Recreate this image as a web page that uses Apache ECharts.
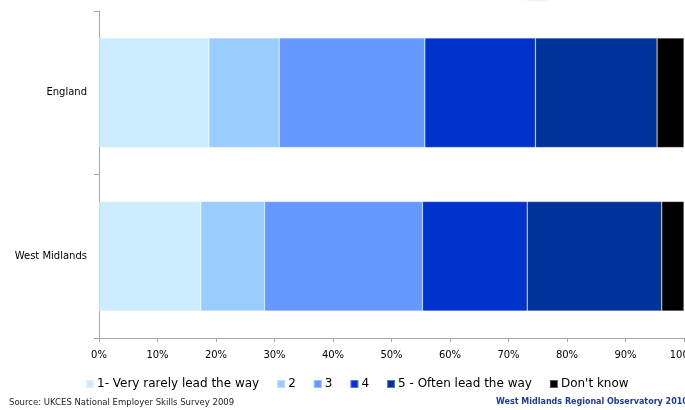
<!DOCTYPE html>
<html>
<head>
<meta charset="utf-8">
<script src="https://cdn.jsdelivr.net/npm/echarts@6/dist/echarts.min.js"></script>
<style>
  html, body { margin: 0; padding: 0; background: #ffffff; }
  #chart { width: 685px; height: 410px; }
</style>
</head>
<body>
<div id="chart"></div>
<script>
// Regions shown as horizontal stacked bars (top to bottom)
const regions = ['England', 'West Midlands'];

// Share of employers (%) by how often they lead the way
const rating1 = [18.8, 17.4];
const rating2 = [12.0, 10.9];
const rating3 = [24.9, 27.0];
const rating4 = [18.9, 17.9];
const rating5 = [20.8, 23.0];
const dontKnow = [4.6, 3.8];

const seriesNames = ['1- Very rarely lead the way', '2', '3', '4', '5 - Often lead the way', "Don't know"];
const seriesColors = ['#CCECFF', '#99CCFF', '#6699FF', '#0033CC', '#003399', '#000000'];
const seriesValues = [rating1, rating2, rating3, rating4, rating5, dontKnow];

const xTicks = [0, 10, 20, 30, 40, 50, 60, 70, 80, 90, 100];

const FONT = 'DejaVu Sans';

const chart = echarts.init(document.getElementById('chart'), null, { renderer: 'canvas' });

chart.setOption({
  animation: false,
  backgroundColor: '#ffffff',
  textStyle: { fontFamily: FONT },
  grid: { left: 99, right: 1, top: 11, bottom: 72, containLabel: false, outerBoundsMode: 'none' },
  xAxis: {
    type: 'value',
    min: xTicks[0],
    max: xTicks[xTicks.length - 1],
    interval: 10,
    axisLine: { show: true, lineStyle: { color: '#a6a6a6', width: 1 } },
    axisTick: { show: true, length: 4, lineStyle: { color: '#a6a6a6' } },
    splitLine: { show: false },
    axisLabel: {
      margin: 12,
      fontSize: 10,
      color: '#000000',
      fontFamily: FONT,
      formatter: v => v + '%'
    }
  },
  yAxis: {
    type: 'category',
    data: regions,
    inverse: true,
    axisLine: { show: true, lineStyle: { color: '#a6a6a6', width: 1 } },
    axisTick: { show: true, length: 5, lineStyle: { color: '#a6a6a6' } },
    axisLabel: { margin: 12, fontSize: 10, color: '#000000', fontFamily: FONT }
  },
  legend: {
    bottom: 15,
    left: 80,
    itemWidth: 8,
    itemHeight: 8,
    itemGap: 17,
    icon: 'rect',
    textStyle: { fontSize: 12, color: '#000000', fontFamily: FONT, padding: [0, 0, 0, -2] },
    data: seriesNames
  },
  series: seriesNames.map((name, i) => ({
    name: name,
    type: 'bar',
    stack: 'total',
    barCategoryGap: '33%',
    data: seriesValues[i],
    itemStyle: {
      color: seriesColors[i],
      borderColor: 'rgba(255,255,255,0.35)',
      borderWidth: 0.6
    },
    emphasis: { disabled: true }
  })),
  graphic: [
    {
      type: 'ellipse',
      shape: { cx: 538, cy: -5, rx: 21, ry: 6 },
      style: { fill: '#e9f1fb', shadowBlur: 3, shadowColor: '#e9f1fb' },
      silent: true
    },
    {
      type: 'text',
      left: 9,
      top: 398,
      style: {
        text: 'Source: UKCES National Employer Skills Survey 2009',
        fontFamily: FONT,
        fontSize: 8.5,
        fill: '#222222'
      }
    },
    {
      type: 'text',
      left: 496,
      top: 398,
      style: {
        text: 'West Midlands Regional Observatory 2010',
        fontFamily: FONT,
        fontSize: 8,
        fontWeight: 'bold',
        fill: '#1f3b8c'
      }
    }
  ]
});
</script>
</body>
</html>
